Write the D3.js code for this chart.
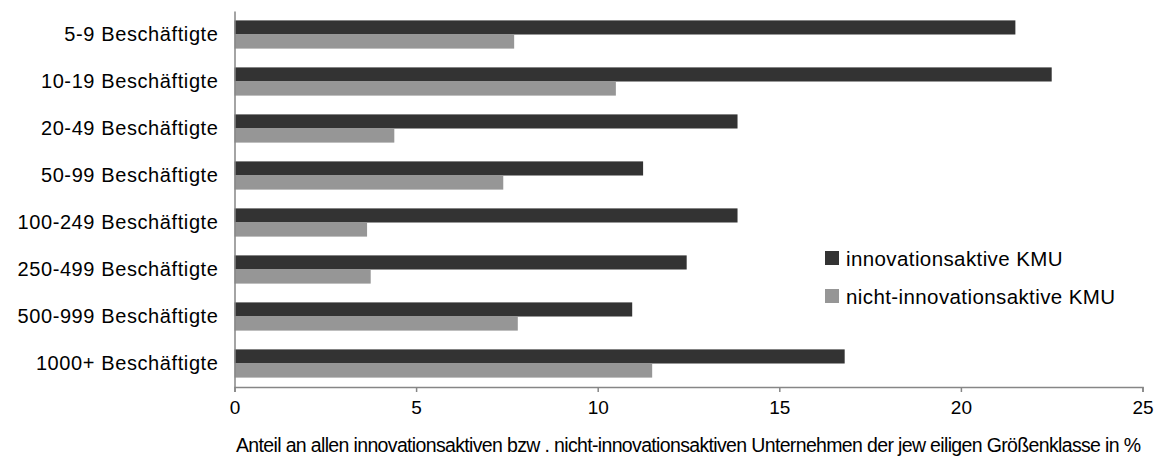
<!DOCTYPE html>
<html>
<head>
<meta charset="utf-8">
<script src="https://cdn.jsdelivr.net/npm/d3@7"></script>
<style>
  html, body { margin: 0; padding: 0; background: #fff; }
  svg { display: block; }
  text { font-family: "Liberation Sans", Arial, sans-serif; fill: #000; }
</style>
</head>
<body>
<svg id="chart" width="1157" height="460"></svg>
<script>
const categories = ["5-9 Beschäftigte", "10-19 Beschäftigte", "20-49 Beschäftigte", "50-99 Beschäftigte",
  "100-249 Beschäftigte", "250-499 Beschäftigte", "500-999 Beschäftigte", "1000+ Beschäftigte"];
const seriesNames = ["innovationsaktive KMU", "nicht-innovationsaktive KMU"];
const innovValues = [21.5, 22.5, 13.85, 11.25, 13.85, 12.45, 10.95, 16.8];
const nonInnovValues = [7.7, 10.5, 4.4, 7.4, 3.65, 3.75, 7.8, 11.5];
const xTicks = [0, 5, 10, 15, 20, 25];
const xTitle = "Anteil an allen innovationsaktiven bzw . nicht-innovationsaktiven Unternehmen der jew eiligen Größenklasse in %";
const colors = ["#333333", "#969696"];

const svg = d3.select("#chart");
const mLeft = 234.5, mRight = 1142.5, mTop = 11, mBottom = 387;

const x = d3.scaleLinear().domain([0, 25]).range([mLeft, mRight]);
const y = d3.scaleBand().domain(categories).range([mTop, mBottom]).paddingInner(0.4).paddingOuter(0.2);
const ySub = d3.scaleBand().domain([0, 1]).range([0, y.bandwidth()]);

const rows = categories.map((c, i) => ({ cat: c, vals: [innovValues[i], nonInnovValues[i]] }));

const g = svg.append("g");
g.selectAll("g.grp").data(rows).join("g")
  .attr("class", "grp")
  .attr("transform", d => `translate(0,${y(d.cat)})`)
  .selectAll("rect").data(d => d.vals.map((v, k) => ({ v, k }))).join("rect")
  .attr("x", x(0))
  .attr("y", d => ySub(d.k))
  .attr("width", d => x(d.v) - x(0))
  .attr("height", ySub.bandwidth())
  .attr("fill", d => colors[d.k]);

// x axis
const xAxis = d3.axisBottom(x).tickValues(xTicks).tickSize(5).tickPadding(9).tickFormat(d3.format("d"));
const xa = svg.append("g").attr("transform", `translate(0,${mBottom})`).call(xAxis);
xa.select(".domain").attr("stroke", "#868686").attr("stroke-width", 1.5);
xa.selectAll(".tick line").attr("stroke", "#868686").attr("stroke-width", 1.5);
xa.selectAll(".tick text").style("font-size", "19px").attr("fill", "#000");

// y axis
const yAxis = d3.axisLeft(y).tickSize(0).tickPadding(16);
const ya = svg.append("g").attr("transform", `translate(${mLeft},0)`).call(yAxis);
ya.select(".domain").attr("stroke", "#868686").attr("stroke-width", 1.5);
ya.selectAll(".tick text").style("font-size", "20px").style("letter-spacing", "0.6px").attr("fill", "#000");

// x title
svg.append("text")
  .attr("x", (mLeft + mRight) / 2).attr("y", 452)
  .attr("text-anchor", "middle")
  .style("font-size", "19.5px")
  .attr("textLength", 905).attr("lengthAdjust", "spacing")
  .text(xTitle);

// legend
const leg = svg.append("g").attr("transform", "translate(825,251)");
seriesNames.forEach((n, i) => {
  const row = leg.append("g").attr("transform", `translate(0,${i * 38})`);
  row.append("rect").attr("width", 14).attr("height", 14).attr("fill", colors[i]);
  row.append("text").attr("x", 21).attr("y", 14.5).style("font-size", "20.5px").style("letter-spacing", "0.4px").text(n);
});
</script>
</body>
</html>
